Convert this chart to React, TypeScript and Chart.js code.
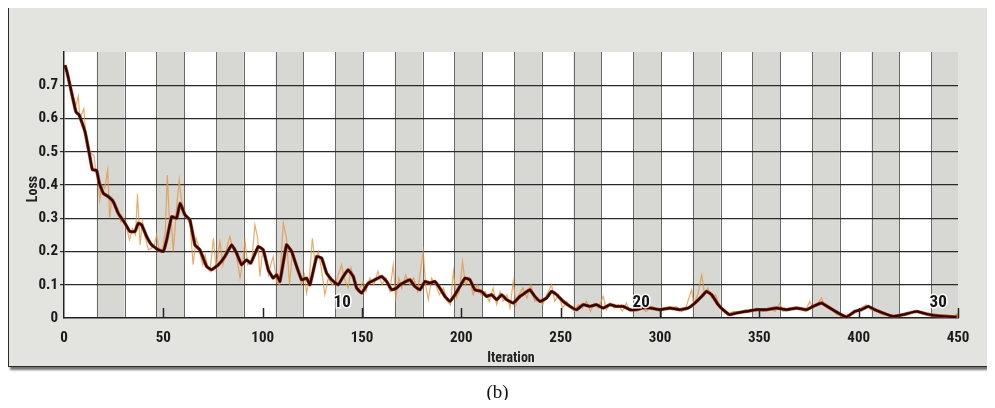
import React, { useEffect, useRef } from "react";
import { Chart, registerables } from "chart.js";

Chart.register(...registerables);

// Smoothed loss curve (iteration, loss)
const smoothX = [0.5, 1.5, 3, 6, 7.7, 10.6, 13, 14.3, 16.4, 17.8, 19.8, 22.3, 24.8, 27.3, 30.7, 33.2, 35.7, 37.4, 39.1, 41.6, 44.1, 47.5, 50, 51.7, 54.2, 56.7, 58.4, 60.9, 63.4, 65.9, 68.4, 71.8, 74.3, 77.7, 81, 84.4, 86.9, 89.4, 91.9, 94, 97.8, 100.3, 102.8, 105.3, 107, 108.7, 112, 114.6, 117.1, 119.6, 122.1, 123.8, 127.2, 129.7, 132.2, 134.7, 138, 140.6, 143, 145.6, 147.3, 149.8, 153.2, 156.5, 159.9, 162.4, 164.9, 167.4, 169.1, 174.1, 176.6, 179.2, 181.7, 184.2, 186.7, 189.2, 191.7, 194.3, 196.8, 199.3, 201.8, 204.3, 206.8, 210.2, 212.7, 215.2, 217.8, 220.3, 222.8, 226.1, 229.5, 231.9, 234.5, 237, 239.6, 242.9, 245.4, 248, 251.3, 254.7, 258, 261.3, 264.7, 268, 271.4, 274.8, 278.1, 281.5, 284.8, 288.2, 291, 295, 300, 305, 310, 314.2, 317.6, 321, 323.4, 326, 329.3, 332.7, 335.2, 338.5, 343.6, 348.6, 353.6, 358.7, 363.7, 368.7, 373.8, 377.1, 381.3, 385.5, 389.7, 393.9, 398.1, 401.4, 404.8, 408.2, 412.3, 417.4, 422.4, 429.1, 434.1, 440.9, 449.3];
const smoothY = [0.76, 0.74, 0.7, 0.62, 0.61, 0.56, 0.486, 0.446, 0.444, 0.405, 0.375, 0.365, 0.35, 0.315, 0.285, 0.26, 0.26, 0.285, 0.28, 0.245, 0.22, 0.205, 0.2, 0.235, 0.305, 0.3, 0.345, 0.31, 0.295, 0.22, 0.205, 0.155, 0.145, 0.16, 0.185, 0.22, 0.195, 0.16, 0.175, 0.165, 0.215, 0.205, 0.145, 0.12, 0.13, 0.11, 0.22, 0.2, 0.155, 0.115, 0.12, 0.1, 0.185, 0.18, 0.135, 0.115, 0.1, 0.125, 0.145, 0.125, 0.09, 0.075, 0.105, 0.115, 0.125, 0.11, 0.085, 0.09, 0.1, 0.115, 0.095, 0.085, 0.11, 0.105, 0.11, 0.09, 0.065, 0.05, 0.07, 0.095, 0.12, 0.115, 0.085, 0.08, 0.065, 0.07, 0.055, 0.07, 0.055, 0.045, 0.065, 0.075, 0.085, 0.065, 0.05, 0.06, 0.08, 0.07, 0.05, 0.035, 0.025, 0.04, 0.035, 0.04, 0.03, 0.04, 0.035, 0.035, 0.025, 0.025, 0.03, 0.03, 0.025, 0.03, 0.025, 0.03, 0.045, 0.065, 0.08, 0.07, 0.04, 0.02, 0.01, 0.015, 0.02, 0.025, 0.025, 0.03, 0.025, 0.03, 0.025, 0.035, 0.045, 0.03, 0.015, 0.003, 0.02, 0.025, 0.035, 0.025, 0.015, 0.005, 0.01, 0.02, 0.012, 0.006, 0.003];

// Raw (noisy) loss
const rawX = [0, 2, 4, 6, 7.2, 8, 10, 11, 13, 15.1, 16, 17, 18, 19, 20.5, 22, 23, 24, 25.5, 27, 28.5, 30, 31.5, 33, 34.5, 36, 37, 38.3, 39.5, 41, 42.5, 44, 45.5, 46.6, 48, 49.5, 51, 52, 53, 54, 55, 56.5, 58, 59, 60.5, 62, 63.5, 65, 66.5, 67.5, 69.8, 71, 72.5, 73.5, 75.2, 76.5, 78.5, 80, 81.5, 83.5, 85, 86.5, 88.6, 90, 91.1, 92.5, 94.5, 96.1, 97.5, 98.6, 100, 101.5, 103, 104, 105.3, 107, 108.5, 110.4, 112, 113.5, 115, 116.5, 118, 119.5, 121, 122.1, 123.5, 125, 126.5, 128, 129.5, 131.3, 133, 135, 137, 139.7, 141, 143, 144.5, 146, 148, 150.6, 152, 154, 156, 158, 160, 162, 164, 165.7, 167, 168.5, 170, 172, 174, 176, 178, 180.8, 182, 183.4, 185, 187, 189, 191, 193, 194.5, 196, 197.5, 199, 200.6, 202, 204, 206, 208, 210, 212, 214, 216, 217.8, 219.5, 221, 223, 224.5, 226.1, 227.5, 229, 231, 233, 235, 237, 239, 241, 243, 245.4, 247, 249, 251, 253, 255, 257, 259, 261, 263, 265, 267, 269, 271.4, 273, 275, 277, 279, 281, 283, 285, 287, 290, 293, 296, 299, 302, 305, 308, 311, 313, 315.9, 317, 319, 321, 322.5, 324, 326, 328, 330, 332, 334, 337, 340, 343, 346, 349, 352, 355, 358, 360.3, 362, 365, 368, 371, 373, 375.4, 377, 379, 381.3, 383, 386, 389, 392, 395, 398, 401, 404, 406, 409, 412, 415, 418, 421, 424, 427, 430, 433, 436, 440, 444, 448, 450];
const rawY = [0.77, 0.72, 0.68, 0.64, 0.667, 0.6, 0.63, 0.55, 0.5, 0.488, 0.44, 0.43, 0.355, 0.4, 0.39, 0.445, 0.3, 0.36, 0.34, 0.33, 0.29, 0.3, 0.27, 0.235, 0.27, 0.25, 0.373, 0.22, 0.29, 0.24, 0.205, 0.21, 0.22, 0.25, 0.2, 0.2, 0.26, 0.43, 0.3, 0.29, 0.2, 0.32, 0.415, 0.36, 0.32, 0.3, 0.28, 0.16, 0.24, 0.22, 0.16, 0.19, 0.15, 0.14, 0.24, 0.15, 0.23, 0.16, 0.2, 0.245, 0.21, 0.2, 0.12, 0.17, 0.23, 0.16, 0.17, 0.28, 0.24, 0.125, 0.2, 0.19, 0.13, 0.16, 0.185, 0.11, 0.1, 0.285, 0.24, 0.1, 0.2, 0.17, 0.14, 0.1, 0.13, 0.075, 0.12, 0.24, 0.16, 0.2, 0.15, 0.07, 0.12, 0.1, 0.11, 0.16, 0.12, 0.09, 0.15, 0.11, 0.08, 0.11, 0.08, 0.12, 0.1, 0.14, 0.1, 0.12, 0.08, 0.16, 0.06, 0.12, 0.09, 0.13, 0.1, 0.12, 0.08, 0.2, 0.1, 0.055, 0.12, 0.1, 0.07, 0.09, 0.05, 0.04, 0.14, 0.06, 0.08, 0.17, 0.1, 0.12, 0.07, 0.1, 0.07, 0.08, 0.05, 0.09, 0.04, 0.08, 0.05, 0.07, 0.03, 0.11, 0.04, 0.07, 0.09, 0.06, 0.1, 0.05, 0.06, 0.04, 0.07, 0.1, 0.05, 0.07, 0.03, 0.05, 0.03, 0.02, 0.04, 0.03, 0.05, 0.02, 0.045, 0.03, 0.065, 0.025, 0.045, 0.03, 0.04, 0.02, 0.045, 0.02, 0.03, 0.035, 0.02, 0.035, 0.02, 0.03, 0.025, 0.035, 0.02, 0.03, 0.085, 0.04, 0.07, 0.13, 0.07, 0.09, 0.06, 0.07, 0.03, 0.025, 0.01, 0.02, 0.015, 0.025, 0.02, 0.03, 0.02, 0.03, 0.02, 0.045, 0.02, 0.03, 0.025, 0.03, 0.02, 0.05, 0.03, 0.04, 0.06, 0.035, 0.03, 0.01, 0.005, 0.01, 0.015, 0.03, 0.04, 0.025, 0.02, 0.01, 0.008, 0.004, 0.01, 0.012, 0.018, 0.022, 0.012, 0.01, 0.006, 0.008, 0.004, 0.005];

// Background shaded column bands (iteration ranges)
const bandStart = [16.5, 46.5, 76.5, 106.5, 136.5, 166.5, 196.5, 226.5, 256.5, 286.5, 316.5, 346.5, 376.5, 406.5, 436.5];
const bandWidth = 14;

// Epoch markers
const epochLabels = ["10", "20", "30"];
const epochX = [140, 290.5, 440];
const epochY = 0.045;

const xTickMarks = [50, 100, 150, 200, 250, 300, 350, 400, 450];

const FONT = '"Liberation Sans Narrow", "Roboto Condensed", "Liberation Sans", Arial, sans-serif';

const decorPlugin = {
  id: "decor",
  beforeDraw(chart: any) {
    const { ctx, chartArea, scales } = chart;
    const xs = scales.x;
    ctx.save();
    ctx.fillStyle = "#ffffff";
    ctx.fillRect(chartArea.left, chartArea.top, chartArea.right - chartArea.left, chartArea.bottom - chartArea.top);
    for (const s of bandStart) {
      const x0 = Math.max(xs.getPixelForValue(s), chartArea.left);
      const x1 = Math.min(xs.getPixelForValue(s + bandWidth), chartArea.right);
      if (x1 <= x0) continue;
      ctx.fillStyle = "#d7d7d3";
      ctx.fillRect(x0, chartArea.top, x1 - x0, chartArea.bottom - chartArea.top);
      ctx.strokeStyle = "#6a6a6a";
      ctx.lineWidth = 1;
      for (const xx of [x0, x1]) {
        if (xx >= chartArea.right - 1) continue;
        ctx.beginPath();
        ctx.moveTo(Math.round(xx) + 0.5, chartArea.top);
        ctx.lineTo(Math.round(xx) + 0.5, chartArea.bottom);
        ctx.stroke();
      }
    }
    ctx.restore();
  },
  afterDatasetsDraw(chart: any) {
    const { ctx, chartArea, scales } = chart;
    const xs = scales.x;
    const ys = scales.y;
    ctx.save();
    ctx.strokeStyle = "#222";
    ctx.lineWidth = 1.5;
    for (const t of xTickMarks) {
      const px = Math.round(xs.getPixelForValue(t)) + 0.5;
      ctx.beginPath();
      ctx.moveTo(px, chartArea.bottom);
      ctx.lineTo(px, chartArea.bottom - 10);
      ctx.stroke();
    }
    ctx.font = "bold 17px " + FONT;
    ctx.textAlign = "center";
    ctx.textBaseline = "middle";
    epochLabels.forEach((lab, i) => {
      const px = xs.getPixelForValue(epochX[i]);
      const py = ys.getPixelForValue(epochY);
      ctx.lineWidth = 3;
      ctx.strokeStyle = "rgba(255,255,255,0.9)";
      ctx.strokeText(lab, px, py);
      ctx.fillStyle = "#151515";
      ctx.fillText(lab, px, py);
    });
    ctx.fillStyle = "#222";
    ctx.font = "bold 14px " + FONT;
    ctx.fillText("Iteration", (chartArea.left + chartArea.right) / 2, chartArea.bottom + 40);
    ctx.translate(chartArea.left - 31, (chartArea.top + chartArea.bottom) / 2 + 4);
    ctx.rotate(-Math.PI / 2);
    ctx.font = "bold 14px " + FONT;
    ctx.fillText("Loss", 0, 0);
    ctx.restore();
  },
};

export default function App() {
  const ref = useRef<HTMLCanvasElement | null>(null);
  useEffect(() => {
    if (!ref.current) return;
    const chart = new Chart(ref.current, {
      type: "line",
      data: {
        datasets: [
          {
            label: "smooth",
            order: 0,
            data: smoothX.map((x, i) => ({ x, y: smoothY[i] })),
            borderColor: "#2a0803",
            borderWidth: 2.2,
            pointRadius: 0,
            tension: 0.1,
          },
          {
            label: "halo",
            order: 1,
            data: smoothX.map((x, i) => ({ x, y: smoothY[i] })),
            borderColor: "rgba(175,45,15,0.9)",
            borderWidth: 3.4,
            pointRadius: 0,
            tension: 0.1,
          },
          {
            label: "raw",
            order: 2,
            data: rawX.map((x, i) => ({ x, y: rawY[i] })),
            borderColor: "rgba(228,150,68,0.8)",
            borderWidth: 1.2,
            pointRadius: (c: any) => (c.dataIndex === rawX.length - 1 ? 3 : 0),
            pointBackgroundColor: "#f08a1c",
            pointBorderWidth: 0,
            tension: 0,
          },
        ],
      },
      options: {
        responsive: false,
        animation: false,
        events: [],
        layout: { padding: { left: 0, top: 52, right: 37, bottom: 60 } },
        plugins: { legend: { display: false }, tooltip: { enabled: false } },
        scales: {
          x: {
            type: "linear",
            min: 0,
            max: 450,
            afterFit: (s: any) => { s.height = 30; },
            ticks: {
              stepSize: 50,
              padding: 11,
              color: "#1a1a1a",
              font: { family: FONT, size: 15, weight: "bold" },
              maxRotation: 0,
            },
            grid: { display: false, drawTicks: false },
            border: { display: true, color: "#222", width: 1.5 },
          },
          y: {
            min: 0,
            max: 0.8,
            afterFit: (s: any) => { s.width = 64; },
            ticks: {
              stepSize: 0.1,
              padding: 2,
              color: "#1a1a1a",
              font: { family: FONT, size: 15, weight: "bold" },
              callback: (v: any) => {
                const r = Math.round(v * 10) / 10;
                if (r >= 0.8) return "";
                return r === 0 ? "0" : r.toFixed(1);
              },
            },
            grid: {
              color: (c: any) => {
                const v = c.tick ? Math.round(c.tick.value * 10) / 10 : 0;
                return v === 0 || v >= 0.8 ? "rgba(0,0,0,0)" : "#2a2a2a";
              },
              lineWidth: 1.2,
              tickLength: 4,
              drawTicks: true,
            },
            border: { display: true, color: "#222", width: 1.5 },
          },
        },
      },
      plugins: [decorPlugin],
    } as any);
    return () => chart.destroy();
  }, []);

  return (
    <div style={{ position: "relative", width: 995, height: 408, margin: -8, background: "#ffffff", overflow: "hidden" }}>
      <div
        style={{
          position: "absolute",
          left: 8,
          top: 5,
          width: 978,
          height: 360,
          background: "#e3e3df",
          border: "1.5px solid #2a2a2a",
          borderRight: "1px solid #bbb",
          boxShadow: "2px 3px 2px rgba(0,0,0,0.55)",
        }}
      />
      <canvas ref={ref} width={995} height={408} style={{ position: "absolute", left: 0, top: 0, width: 995, height: 408 }} />
      <div
        style={{
          position: "absolute",
          left: 0,
          width: 995,
          top: 381,
          textAlign: "center",
          fontFamily: '"Liberation Serif", "Times New Roman", serif',
          fontSize: 19,
          color: "#111",
        }}
      >
        (b)
      </div>
    </div>
  );
}
